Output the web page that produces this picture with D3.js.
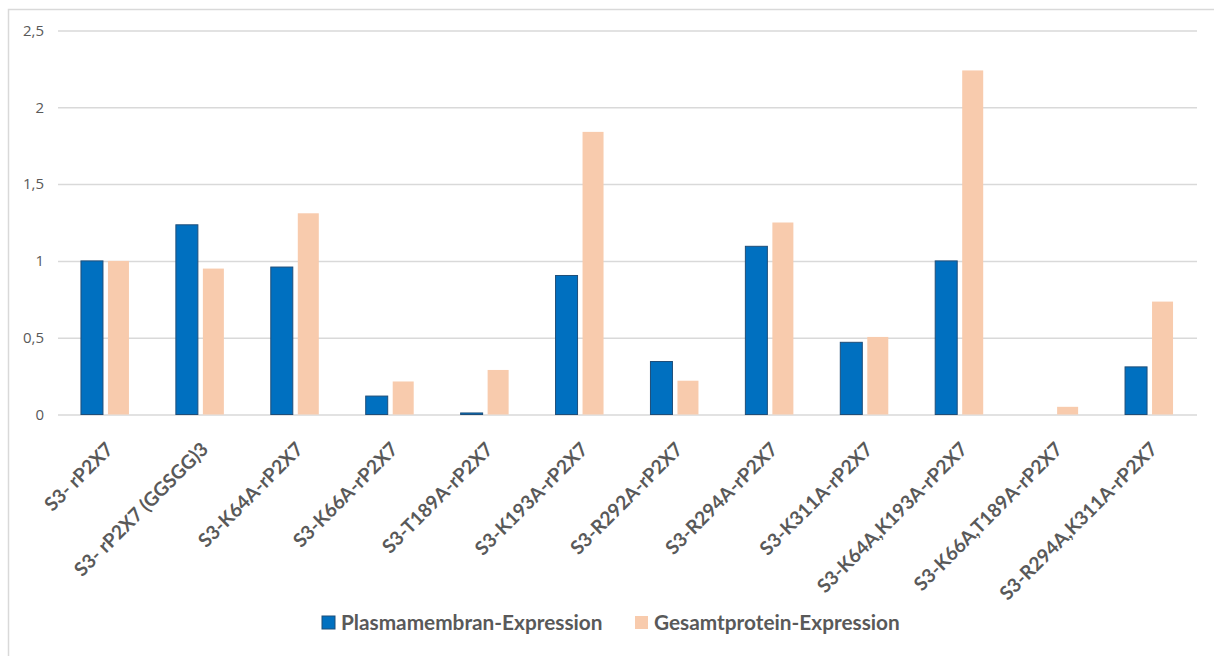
<!DOCTYPE html>
<html>
<head>
<meta charset="utf-8">
<script src="https://cdn.jsdelivr.net/npm/d3@7"></script>
<style>
  html, body { margin: 0; padding: 0; background: #fff; }
  svg { display: block; }
</style>
</head>
<body>
<svg id="chart" width="1214" height="656"></svg>
<script>
// Constructs (x categories)
const categories = [
  "S3- rP2X7",
  "S3- rP2X7 (GGSGG)3",
  "S3-K64A-rP2X7",
  "S3-K66A-rP2X7",
  "S3-T189A-rP2X7",
  "S3-K193A-rP2X7",
  "S3-R292A-rP2X7",
  "S3-R294A-rP2X7",
  "S3-K311A-rP2X7",
  "S3-K64A,K193A-rP2X7",
  "S3-K66A,T189A-rP2X7",
  "S3-R294A,K311A-rP2X7"
];

// Relative expression values
const plasmamembran = [1.0, 1.235, 0.96, 0.12, 0.01, 0.905, 0.345, 1.095, 0.47, 1.0, 0.0, 0.31];
const gesamtprotein = [1.0, 0.95, 1.31, 0.215, 0.29, 1.84, 0.22, 1.25, 0.505, 2.24, 0.05, 0.735];

const seriesNames = ["Plasmamembran-Expression", "Gesamtprotein-Expression"];
const yTicks = [0, 0.5, 1, 1.5, 2, 2.5];
const yTickLabels = ["0", "0,5", "1", "1,5", "2", "2,5"];

const svg = d3.select("#chart");
const W = 1214, H = 656;
const plot = { left: 58, right: 1197, top: 30.5, bottom: 414.5 };

const colors = { blue: "#0070C0", blueEdge: "#1F4E79", peach: "#F8CBAD", grid: "#D9D9D9", text: "#595959" };
const fontFamily = "Lato, 'Open Sans', sans-serif";

// outer chart frame
svg.append("rect")
  .attr("x", 8.5).attr("y", 9.5)
  .attr("width", W + 20).attr("height", H + 20)
  .attr("fill", "#fff").attr("stroke", "#D9D9D9").attr("stroke-width", 1.5);

const x = d3.scaleBand().domain(categories).range([plot.left, plot.right]).paddingInner(0).paddingOuter(0);
const y = d3.scaleLinear().domain([0, 2.5]).range([plot.bottom, plot.top]);

// gridlines
const yAxis = d3.axisLeft(y).tickValues(yTicks)
  .tickFormat((d, i) => yTickLabels[i])
  .tickSize(-(plot.right - plot.left)).tickPadding(14);

const gy = svg.append("g").attr("transform", `translate(${plot.left},0)`).call(yAxis);
gy.select(".domain").remove();
gy.selectAll(".tick line").attr("stroke", colors.grid).attr("stroke-width", 1.5);
gy.selectAll(".tick text")
  .attr("fill", colors.text)
  .style("font-family", "'Open Sans', sans-serif")
  .style("font-size", "15px");

// bars
const bw = 22, gap = 5;
const groups = svg.append("g");
const rows = categories.map((c, i) => ({ c, p: plasmamembran[i], g: gesamtprotein[i] }));

groups.selectAll("rect.pm").data(rows).join("rect")
  .attr("class", "pm")
  .attr("x", d => x(d.c) + x.bandwidth() / 2 - gap / 2 - bw)
  .attr("y", d => y(d.p))
  .attr("width", bw)
  .attr("height", d => y(0) - y(d.p))
  .attr("fill", colors.blue)
  .attr("stroke", colors.blueEdge)
  .attr("stroke-width", d => d.p > 0 ? 1 : 0);

groups.selectAll("rect.gp").data(rows).join("rect")
  .attr("class", "gp")
  .attr("x", d => x(d.c) + x.bandwidth() / 2 + gap / 2)
  .attr("y", d => y(d.g))
  .attr("width", bw - 1)
  .attr("height", d => y(0) - y(d.g))
  .attr("fill", colors.peach);

// category labels
const xAxis = d3.axisBottom(x).tickSize(0).tickPadding(0);
const gx = svg.append("g").attr("transform", `translate(0,${plot.bottom})`).call(xAxis);
gx.select(".domain").remove();
gx.selectAll(".tick text")
  .attr("fill", colors.text)
  .attr("text-anchor", "end")
  .attr("y", 0)
  .attr("dy", 0)
  .attr("transform", "translate(9,36) rotate(-45)")
  .style("font-family", fontFamily)
  .style("font-weight", "bold")
  .style("font-size", "19.2px");

// legend
const legend = svg.append("g").attr("transform", "translate(0,623)");
const legendItems = [
  { name: seriesNames[0], fill: colors.blue, stroke: colors.blueEdge, x: 322 },
  { name: seriesNames[1], fill: colors.peach, stroke: "none", x: 635 }
];
legendItems.forEach(it => {
  legend.append("rect")
    .attr("x", it.x).attr("y", -7).attr("width", 13).attr("height", 13)
    .attr("fill", it.fill).attr("stroke", it.stroke);
  legend.append("text")
    .attr("x", it.x + 19).attr("y", 0).attr("dy", "0.35em")
    .attr("fill", colors.text)
    .style("font-family", fontFamily)
    .style("font-weight", "bold")
    .style("font-size", "20.8px")
    .text(it.name);
});
</script>
</body>
</html>
